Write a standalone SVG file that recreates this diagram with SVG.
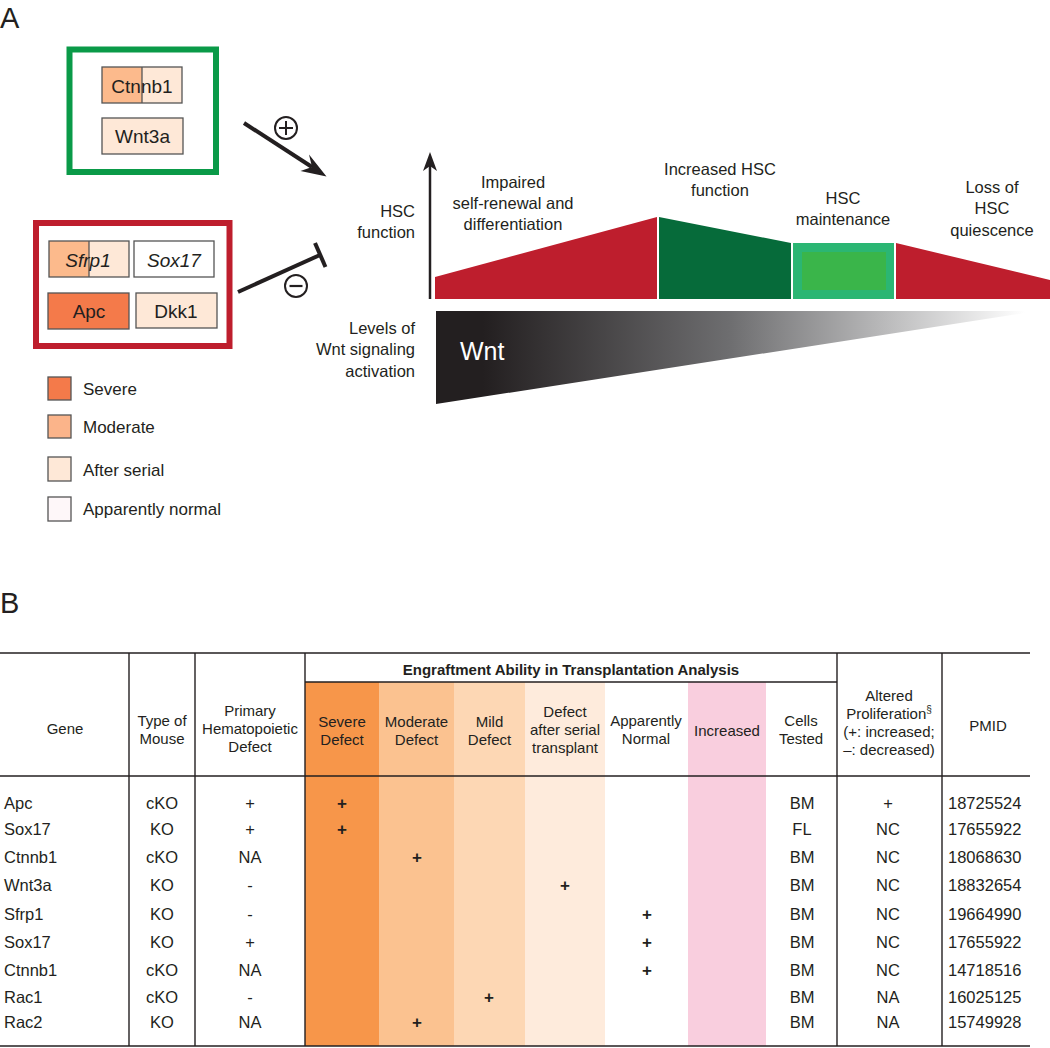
<svg xmlns="http://www.w3.org/2000/svg" width="1050" height="1048" viewBox="0 0 1050 1048">
<style>
text{font-family:"Liberation Sans",Arial,sans-serif;fill:#231F20}
.lab{font-size:29px}
.gene{font-size:19px;text-anchor:middle}
.it{font-style:italic}
.gbox{stroke:#555;stroke-width:1.3}
.leg{font-size:17px}
.an{font-size:16.5px;text-anchor:middle}
.ar{font-size:16.5px;text-anchor:end}
.th{font-size:15px;text-anchor:middle}
.td{font-size:16.5px}
.tc{font-size:16.5px;text-anchor:middle}
.pl{font-size:17px;font-weight:bold;text-anchor:middle}
.tl{stroke:#231F20;stroke-width:1.4;fill:none}
.red{fill:#BE1E2D}
.mod{fill:#FCBA8C}
.ser{fill:#FEE8D7}
.sev{fill:#F47A4A}
.head{fill:#231F20}
</style>
<defs>
<linearGradient id="wntg" x1="436" y1="0" x2="1025" y2="0" gradientUnits="userSpaceOnUse">
<stop offset="0" stop-color="#231F20"/>
<stop offset="0.08" stop-color="#231F20"/>
<stop offset="0.5" stop-color="#6E6E70"/>
<stop offset="1" stop-color="#FFFFFF"/>
</linearGradient>
</defs>
<rect width="1050" height="1048" fill="#FFFFFF"/>

<!-- Panel A -->
<text class="lab" x="0" y="28">A</text>

<g id="activators">
<rect x="69.5" y="49.5" width="146.5" height="122.5" fill="none" stroke="#0A9A48" stroke-width="6"/>
<g id="ctnnb1-box">
<rect x="102" y="67" width="40" height="36" class="mod"/>
<rect x="142" y="67" width="40" height="36" class="ser"/>
<rect x="102" y="67" width="80" height="36" fill="none" class="gbox"/>
<line x1="142" y1="67" x2="142" y2="103" class="gbox"/>
<text class="gene" x="142" y="93">Ctnnb1</text>
</g>
<g id="wnt3a-box">
<rect x="102" y="118" width="81" height="36" class="ser gbox"/>
<text class="gene" x="142.5" y="143">Wnt3a</text>
</g>
</g>

<g id="inhibitors">
<rect x="36" y="223" width="193.5" height="123" fill="none" stroke="#BE1E2D" stroke-width="6"/>
<g id="sfrp1-box">
<rect x="49" y="241" width="40" height="36" class="mod"/>
<rect x="89" y="241" width="40" height="36" class="ser"/>
<rect x="49" y="241" width="80" height="36" fill="none" class="gbox"/>
<line x1="89" y1="241" x2="89" y2="277" class="gbox"/>
<text class="gene it" x="88" y="267">Sfrp1</text>
</g>
<g id="sox17-box">
<rect x="134" y="241" width="80" height="36" fill="#FFFFFF" class="gbox"/>
<text class="gene it" x="174" y="267">Sox17</text>
</g>
<g id="apc-box">
<rect x="48" y="293" width="81" height="36" class="sev gbox"/>
<text class="gene" x="89" y="318">Apc</text>
</g>
<g id="dkk1-box">
<rect x="136" y="293" width="81" height="35" class="ser gbox"/>
<text class="gene" x="176" y="318">Dkk1</text>
</g>
</g>

<g id="legend">
<rect x="48" y="377" width="23" height="23" class="sev gbox"/>
<text class="leg" x="83" y="395">Severe</text>
<rect x="48" y="415" width="23" height="23" fill="#FBB48A" class="gbox"/>
<text class="leg" x="83" y="433">Moderate</text>
<rect x="48" y="457" width="23" height="24" class="ser gbox"/>
<text class="leg" x="83" y="476">After serial</text>
<rect x="48" y="497" width="23" height="24" fill="#FEF7F9" class="gbox"/>
<text class="leg" x="83" y="515">Apparently normal</text>
</g>

<g id="connectors">
<line x1="244" y1="123" x2="312" y2="167" stroke="#231F20" stroke-width="4"/>
<polygon class="head" points="326.5,176.5 300.5,171 312,167 309,154.5"/>
<line x1="238" y1="292" x2="320" y2="255" stroke="#231F20" stroke-width="4"/>
<line x1="315" y1="243" x2="325.5" y2="267" stroke="#231F20" stroke-width="4"/>
<line x1="430" y1="299" x2="430" y2="166" stroke="#231F20" stroke-width="2.5"/>
<polygon class="head" points="430,152 437,171 430,166 423,171"/>
</g>

<g id="plus-sign">
<circle cx="286" cy="128" r="11" fill="#FFFFFF" stroke="#231F20" stroke-width="2"/>
<line x1="279" y1="128" x2="293" y2="128" stroke="#231F20" stroke-width="2"/>
<line x1="286" y1="121" x2="286" y2="135" stroke="#231F20" stroke-width="2"/>
</g>
<g id="minus-sign">
<circle cx="296" cy="286" r="11" fill="#FFFFFF" stroke="#231F20" stroke-width="2"/>
<line x1="289.5" y1="286" x2="302.5" y2="286" stroke="#231F20" stroke-width="2.2"/>
</g>

<g id="axis-labels">
<text class="ar" x="415" y="217">HSC</text>
<text class="ar" x="415" y="238">function</text>
<text class="ar" x="415" y="334">Levels of</text>
<text class="ar" x="415" y="355">Wnt signaling</text>
<text class="ar" x="415" y="377">activation</text>
</g>

<g id="impaired">
<polygon class="red" points="435,299 435,277 657,217 657,299"/>
<text class="an" x="513" y="188">Impaired</text>
<text class="an" x="513" y="209">self-renewal and</text>
<text class="an" x="513" y="230">differentiation</text>
</g>
<g id="increased">
<polygon fill="#066B3A" points="659,299 659,217 791,243 791,299"/>
<text class="an" x="720" y="175">Increased HSC</text>
<text class="an" x="720" y="196">function</text>
</g>
<g id="maintenance">
<rect x="793" y="243" width="101" height="56" fill="#2BB673"/>
<rect x="802" y="252" width="84" height="38" fill="#3AB54A"/>
<text class="an" x="843" y="204">HSC</text>
<text class="an" x="843" y="225">maintenance</text>
</g>
<g id="loss">
<polygon class="red" points="896,299 896,243 1050,280 1050,299"/>
<text class="an" x="992" y="193">Loss of</text>
<text class="an" x="992" y="214">HSC</text>
<text class="an" x="992" y="236">quiescence</text>
</g>
<g id="wnt-gradient">
<polygon fill="url(#wntg)" points="436,311 1025,311 1025,313 436,404"/>
<text x="460" y="360" style="font-size:25px;fill:#FFFFFF">Wnt</text>
</g>

<!-- Panel B -->
<text class="lab" x="0" y="613">B</text>
<g id="table">
<g id="bands">
<rect x="305" y="682" width="74" height="364" fill="#F7964A"/>
<rect x="379" y="682" width="75" height="364" fill="#FBC290"/>
<rect x="454" y="682" width="71" height="364" fill="#FDD7B4"/>
<rect x="525" y="682" width="80" height="364" fill="#FEEBDC"/>
<rect x="688" y="682" width="78" height="364" fill="#F9CEDE"/>
</g>
<g id="grid">
<line class="tl" x1="0" y1="653" x2="1030" y2="653"/>
<line class="tl" x1="305" y1="682" x2="837" y2="682"/>
<line class="tl" x1="0" y1="776" x2="1030" y2="776"/>
<line class="tl" x1="0" y1="1046" x2="1030" y2="1046"/>
<line class="tl" x1="129" y1="653" x2="129" y2="1046"/>
<line class="tl" x1="195" y1="653" x2="195" y2="1046"/>
<line class="tl" x1="305" y1="653" x2="305" y2="1046"/>
<line class="tl" x1="837" y1="653" x2="837" y2="1046"/>
<line class="tl" x1="942" y1="653" x2="942" y2="1046"/>
</g>
<g id="header">
<text class="th" x="571" y="675" style="font-weight:bold">Engraftment Ability in Transplantation Analysis</text>
<text class="th" x="65" y="734">Gene</text>
<text class="th" x="162" y="726">Type of</text>
<text class="th" x="162" y="744">Mouse</text>
<text class="th" x="250" y="716">Primary</text>
<text class="th" x="250" y="734">Hematopoietic</text>
<text class="th" x="250" y="752">Defect</text>
<text class="th" x="342" y="727">Severe</text>
<text class="th" x="342" y="745">Defect</text>
<text class="th" x="416.5" y="727">Moderate</text>
<text class="th" x="416.5" y="745">Defect</text>
<text class="th" x="489.5" y="727">Mild</text>
<text class="th" x="489.5" y="745">Defect</text>
<text class="th" x="565" y="717">Defect</text>
<text class="th" x="565" y="735">after serial</text>
<text class="th" x="565" y="753">transplant</text>
<text class="th" x="646" y="726">Apparently</text>
<text class="th" x="646" y="744">Normal</text>
<text class="th" x="727" y="736">Increased</text>
<text class="th" x="801" y="726">Cells</text>
<text class="th" x="801" y="744">Tested</text>
<text class="th" x="889" y="701">Altered</text>
<text class="th" x="889" y="719">Proliferation<tspan dy="-6" style="font-size:10px">§</tspan></text>
<text class="th" x="889" y="737">(+: increased;</text>
<text class="th" x="889" y="755">–: decreased)</text>
<text class="th" x="988" y="731">PMID</text>
</g>
<g id="col-gene">
<text class="td" x="4" y="809">Apc</text>
<text class="td" x="4" y="835">Sox17</text>
<text class="td" x="4" y="863">Ctnnb1</text>
<text class="td" x="4" y="891">Wnt3a</text>
<text class="td" x="4" y="920">Sfrp1</text>
<text class="td" x="4" y="948">Sox17</text>
<text class="td" x="4" y="976">Ctnnb1</text>
<text class="td" x="4" y="1003">Rac1</text>
<text class="td" x="4" y="1028">Rac2</text>
</g>
<g id="col-type">
<text class="tc" x="162" y="809">cKO</text>
<text class="tc" x="162" y="835">KO</text>
<text class="tc" x="162" y="863">cKO</text>
<text class="tc" x="162" y="891">KO</text>
<text class="tc" x="162" y="920">KO</text>
<text class="tc" x="162" y="948">KO</text>
<text class="tc" x="162" y="976">cKO</text>
<text class="tc" x="162" y="1003">cKO</text>
<text class="tc" x="162" y="1028">KO</text>
</g>
<g id="col-primary">
<text class="tc" x="250" y="809">+</text>
<text class="tc" x="250" y="835">+</text>
<text class="tc" x="250" y="863">NA</text>
<text class="tc" x="250" y="891">-</text>
<text class="tc" x="250" y="920">-</text>
<text class="tc" x="250" y="948">+</text>
<text class="tc" x="250" y="976">NA</text>
<text class="tc" x="250" y="1003">-</text>
<text class="tc" x="250" y="1028">NA</text>
</g>
<g id="col-engraftment">
<text class="pl" x="342" y="809">+</text>
<text class="pl" x="342" y="835">+</text>
<text class="pl" x="417" y="863">+</text>
<text class="pl" x="565" y="891">+</text>
<text class="pl" x="647" y="920">+</text>
<text class="pl" x="647" y="948">+</text>
<text class="pl" x="647" y="976">+</text>
<text class="pl" x="489" y="1003">+</text>
<text class="pl" x="417" y="1028">+</text>
</g>
<g id="col-cells">
<text class="tc" x="802" y="809">BM</text>
<text class="tc" x="802" y="835">FL</text>
<text class="tc" x="802" y="863">BM</text>
<text class="tc" x="802" y="891">BM</text>
<text class="tc" x="802" y="920">BM</text>
<text class="tc" x="802" y="948">BM</text>
<text class="tc" x="802" y="976">BM</text>
<text class="tc" x="802" y="1003">BM</text>
<text class="tc" x="802" y="1028">BM</text>
</g>
<g id="col-altered">
<text class="tc" x="888" y="809">+</text>
<text class="tc" x="888" y="835">NC</text>
<text class="tc" x="888" y="863">NC</text>
<text class="tc" x="888" y="891">NC</text>
<text class="tc" x="888" y="920">NC</text>
<text class="tc" x="888" y="948">NC</text>
<text class="tc" x="888" y="976">NC</text>
<text class="tc" x="888" y="1003">NA</text>
<text class="tc" x="888" y="1028">NA</text>
</g>
<g id="col-pmid">
<text class="td" x="948" y="809">18725524</text>
<text class="td" x="948" y="835">17655922</text>
<text class="td" x="948" y="863">18068630</text>
<text class="td" x="948" y="891">18832654</text>
<text class="td" x="948" y="920">19664990</text>
<text class="td" x="948" y="948">17655922</text>
<text class="td" x="948" y="976">14718516</text>
<text class="td" x="948" y="1003">16025125</text>
<text class="td" x="948" y="1028">15749928</text>
</g>
</g>
</svg>
